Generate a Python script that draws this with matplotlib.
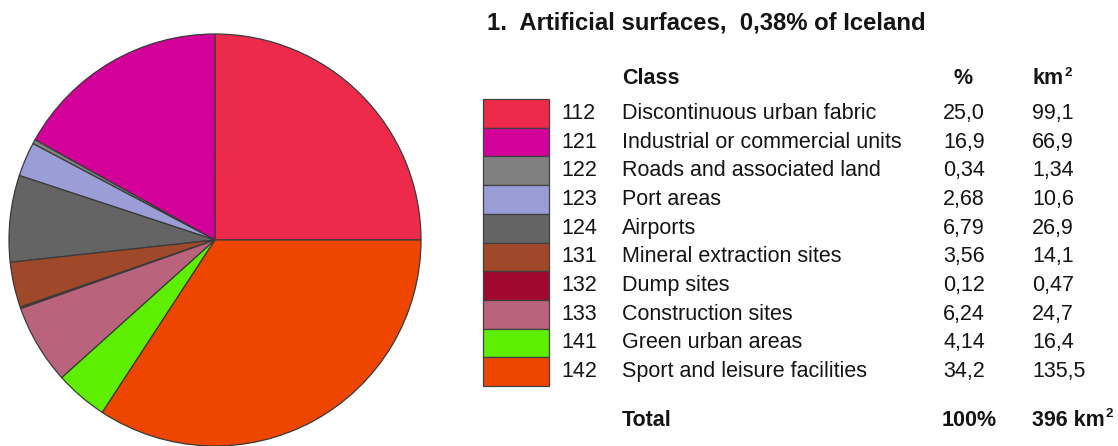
import matplotlib
matplotlib.use("Agg")
import matplotlib.pyplot as plt

plt.rcParams['font.family'] = ['Liberation Sans', 'DejaVu Sans']

# ---- data ----
codes = ["112", "121", "122", "123", "124", "131", "132", "133", "141", "142"]
classes = ["Discontinuous urban fabric", "Industrial or commercial units",
           "Roads and associated land", "Port areas", "Airports",
           "Mineral extraction sites", "Dump sites", "Construction sites",
           "Green urban areas", "Sport and leisure facilities"]
percent = [25.0, 16.9, 0.34, 2.68, 6.79, 3.56, 0.12, 6.24, 4.14, 34.2]
percent_labels = ["25,0", "16,9", "0,34", "2,68", "6,79", "3,56", "0,12", "6,24", "4,14", "34,2"]
km2_labels = ["99,1", "66,9", "1,34", "10,6", "26,9", "14,1", "0,47", "24,7", "16,4", "135,5"]
colors = ["#EE2A4A", "#D4009A", "#808080", "#9B9ED6", "#646464",
          "#A0482A", "#A0082E", "#B9637D", "#5EEE00", "#EE4600"]
title = "1.  Artificial surfaces,  0,38% of Iceland"
total_pct = "100%"
total_km2 = "396 km"

W, H = 1118, 446
fig = plt.figure(figsize=(W / 100, H / 100), dpi=100)

# ---- pie ----
cx, cy, r = 215, 240, 206
pax = fig.add_axes([(cx - r) / W, (H - cy - r) / H, 2 * r / W, 2 * r / H])
pax.pie(percent, colors=colors, startangle=0, counterclock=True,
        wedgeprops=dict(edgecolor="#3a3a3a", linewidth=0.9))
pax.set_xlim(-1, 1)
pax.set_ylim(-1, 1)
pax.set_aspect('equal')
pax.axis('off')

# ---- table overlay in pixel coordinates ----
ax = fig.add_axes([0, 0, 1, 1])
ax.set_xlim(0, W)
ax.set_ylim(H, 0)
ax.axis('off')

tc = "#141414"
fs = 15.5
row_top, row_h = 99, 28.7
rows = [row_top + row_h * (i + 0.5) for i in range(len(codes))]

ax.barh(rows, width=66, left=483, height=row_h, color=colors,
        edgecolor="#404040", linewidth=0.9)

ax.text(487, 23, title, fontsize=17.2, fontweight='bold', color=tc, va='center', ha='left')
ax.text(622, 78, "Class", fontsize=fs, fontweight='bold', color=tc, va='center')
ax.text(963, 78, "%", fontsize=fs, fontweight='bold', color=tc, va='center', ha='center')
t = ax.text(1032, 79, "km", fontsize=fs, fontweight='bold', color=tc, va='center')

for y, c, n, p, k in zip(rows, codes, classes, percent_labels, km2_labels):
    ax.text(561, y, c, fontsize=fs, color=tc, va='center')
    ax.text(622, y, n, fontsize=fs, color=tc, va='center')
    ax.text(943, y, p, fontsize=fs, color=tc, va='center')
    ax.text(1032, y, k, fontsize=fs, color=tc, va='center')

ax.text(622, 420, "Total", fontsize=fs, fontweight='bold', color=tc, va='center')
ax.text(942, 420, total_pct, fontsize=fs, fontweight='bold', color=tc, va='center')
t2 = ax.text(1032, 420, total_km2, fontsize=fs, fontweight='bold', color=tc, va='center')

fig.canvas.draw()
renderer = fig.canvas.get_renderer()
for tt, yy in [(t, 79), (t2, 420)]:
    bb = tt.get_window_extent(renderer)
    x_end = ax.transData.inverted().transform((bb.x1, bb.y0))[0]
    ax.text(x_end + 1, yy - 6, "2", fontsize=fs * 0.62, fontweight='bold', color=tc, va='center')

fig.savefig("out.png", dpi=100, facecolor='white')
